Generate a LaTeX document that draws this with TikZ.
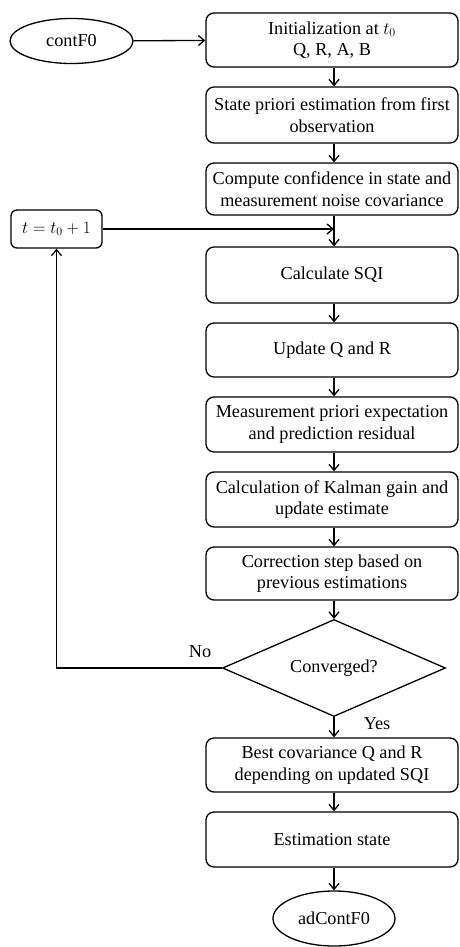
\documentclass[tikz,border=0pt]{standalone}
\usepackage{fontspec}
\setmainfont{Liberation Serif}
\usetikzlibrary{shapes.geometric,arrows.meta}
\begin{document}
\begin{tikzpicture}[x=1pt,y=-1pt,
  font=\fontsize{18.2}{21.5}\selectfont,
  line width=1.3pt,
  proc/.style={draw,rounded corners=8pt,minimum width=252pt,minimum height=54pt,align=center,inner sep=2pt},
  term/.style={draw,ellipse,inner sep=0pt},
  decide/.style={draw,diamond,aspect=2.3,inner sep=0pt,minimum width=223pt,minimum height=97pt},
  arr/.style={-{Straight Barb[length=6pt,width=10pt]}}]
\useasboundingbox (0,0) rectangle (459,947);
\node[term,minimum width=123pt,minimum height=45pt] (start) at (71.5,41) {contF0};
\node[proc] (init) at (332,40) {Initialization at $t_0$\\Q, R, A, B};
\node[proc,minimum height=56pt] (prior) at (332,115) {State priori estimation from first\\observation};
\node[proc,minimum height=52pt] (conf) at (332,189) {Compute confidence in state and\\measurement noise covariance};
\node[draw,rounded corners=6pt,minimum width=91pt,minimum height=38pt,inner sep=2pt] (tbox) at (56.5,229) {$t=t_0+1$};
\node[proc,minimum height=56pt] (sqi) at (332,275) {Calculate SQI};
\node[proc] (upd) at (332,350) {Update Q and R};
\node[proc,minimum height=55pt] (meas) at (332,424.5) {Measurement priori expectation\\and prediction residual};
\node[proc,minimum height=55pt] (kal) at (332,499.5) {Calculation of Kalman gain and\\update estimate};
\node[proc,minimum height=53pt] (corr) at (332,573.5) {Correction step based on\\previous estimations};
\node[decide] (conv) at (334,668) {Converged?};
\node[proc] (best) at (332,765) {Best covariance Q and R\\depending on updated SQI};
\node[proc,minimum height=55pt] (est) at (332,839.5) {Estimation state};
\node[term,minimum width=122pt,minimum height=55pt] (stop) at (334,918.5) {adContF0};
\node (no) at (200,652) {No};
\node (yes) at (377,724) {Yes};
\coordinate (join) at (conv.north |- tbox.east);
\coordinate (loop) at (tbox.south |- conv.west);
\draw[arr] (start) -- (init);
\draw[arr] (init.south -| conv.north) -- (prior.north -| conv.north);
\draw[arr] (prior.south -| conv.north) -- (conf.north -| conv.north);
\draw[arr] (conf.south -| conv.north) -- (sqi.north -| conv.north);
\draw[arr] (tbox.east) -- (join);
\draw[arr] (sqi.south -| conv.north) -- (upd.north -| conv.north);
\draw[arr] (upd.south -| conv.north) -- (meas.north -| conv.north);
\draw[arr] (meas.south -| conv.north) -- (kal.north -| conv.north);
\draw[arr] (kal.south -| conv.north) -- (corr.north -| conv.north);
\draw[arr] (corr.south -| conv.north) -- (conv.north);
\draw[arr] (conv.west) -- (loop) -- (tbox.south);
\draw[arr] (conv.south) -- (best.north -| conv.south);
\draw[arr] (best.south -| conv.north) -- (est.north -| conv.north);
\draw[arr] (est.south -| conv.north) -- (stop.north);
\end{tikzpicture}
\end{document}
